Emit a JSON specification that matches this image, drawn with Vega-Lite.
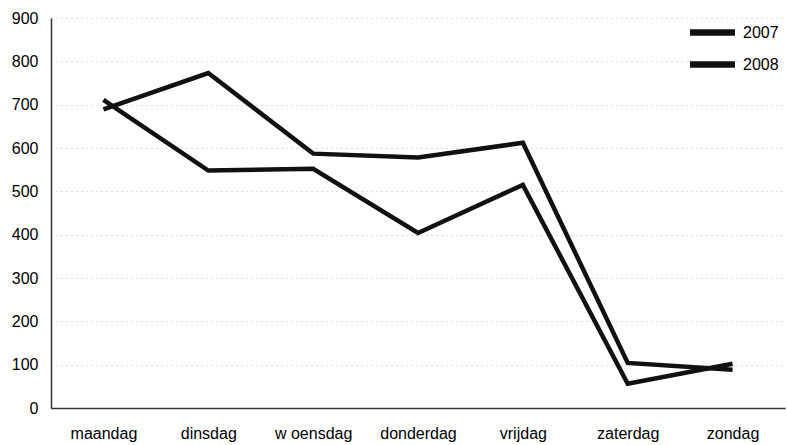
{
  "$schema": "https://vega.github.io/schema/vega-lite/v6.json",
  "autosize": "none",
  "padding": {"left": 51, "top": 18, "right": 2, "bottom": 37},
  "width": 734,
  "height": 390,
  "background": "white",
  "data": {"values": [
    {"dag": "maandag", "jaar": "2007", "aantal": 689},
    {"dag": "dinsdag", "jaar": "2007", "aantal": 773},
    {"dag": "w oensdag", "jaar": "2007", "aantal": 587},
    {"dag": "donderdag", "jaar": "2007", "aantal": 578},
    {"dag": "vrijdag", "jaar": "2007", "aantal": 612},
    {"dag": "zaterdag", "jaar": "2007", "aantal": 104},
    {"dag": "zondag", "jaar": "2007", "aantal": 88},
    {"dag": "maandag", "jaar": "2008", "aantal": 711},
    {"dag": "dinsdag", "jaar": "2008", "aantal": 548},
    {"dag": "w oensdag", "jaar": "2008", "aantal": 552},
    {"dag": "donderdag", "jaar": "2008", "aantal": 404},
    {"dag": "vrijdag", "jaar": "2008", "aantal": 515},
    {"dag": "zaterdag", "jaar": "2008", "aantal": 56},
    {"dag": "zondag", "jaar": "2008", "aantal": 102}
  ]},
  "mark": {"type": "line", "strokeWidth": 4.5, "strokeJoin": "miter"},
  "encoding": {
    "x": {
      "field": "dag", "type": "nominal", "sort": null,
      "scale": {"type": "point", "padding": 0.5},
      "axis": {"title": null, "labelAngle": 0, "labelFont": "Liberation Sans", "labelFontSize": 16, "labelColor": "black", "labelPadding": 17, "ticks": false, "grid": false, "domainColor": "#333", "domainWidth": 1.5}
    },
    "y": {
      "field": "aantal", "type": "quantitative",
      "scale": {"domain": [0, 900], "nice": false},
      "axis": {"title": null, "values": [0,100,200,300,400,500,600,700,800,900], "labelFont": "Liberation Sans", "labelFontSize": 16, "labelColor": "black", "labelPadding": 13, "ticks": false, "gridColor": "#bbbbbb", "gridDash": [1, 4], "gridWidth": 1, "domainColor": "#333", "domainWidth": 1.5}
    },
    "color": {
      "field": "jaar", "type": "nominal",
      "scale": {"domain": ["2007", "2008"], "range": ["#111111", "#111111"]},
      "legend": {"title": null, "orient": "none", "legendX": 647, "legendY": 0, "symbolType": "M-2,0H2", "symbolStrokeWidth": 6.5, "symbolSize": 506, "symbolOffset": 0, "labelOffset": 16, "labelFont": "Liberation Sans", "labelFontSize": 16, "labelColor": "black", "rowPadding": 4}
    }
  },
  "config": {"view": {"stroke": null}}
}
